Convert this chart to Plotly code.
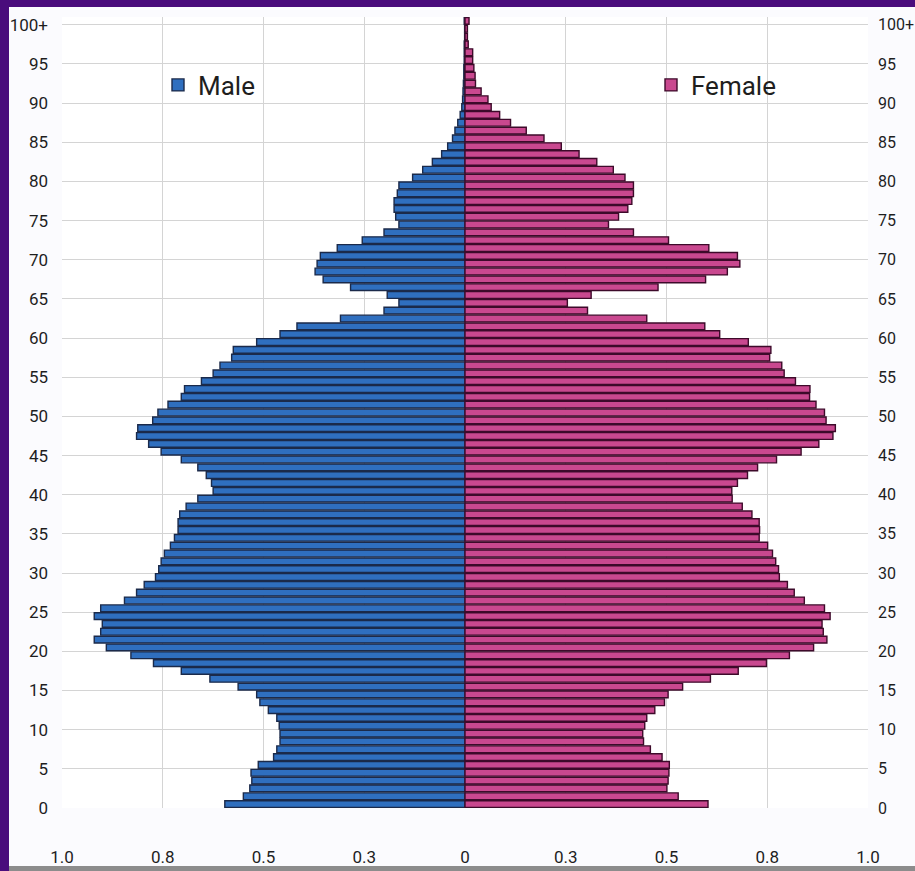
import plotly.graph_objects as go

ages = list(range(0, 101))

male = [0.596, 0.550, 0.534, 0.529, 0.531, 0.513, 0.475, 0.467, 0.459, 0.459,
        0.461, 0.467, 0.488, 0.509, 0.517, 0.563, 0.633, 0.704, 0.773, 0.829,
        0.890, 0.920, 0.904, 0.900, 0.920, 0.904, 0.845, 0.815, 0.796, 0.768,
        0.760, 0.754, 0.746, 0.731, 0.721, 0.712, 0.712, 0.708, 0.692, 0.663,
        0.625, 0.629, 0.642, 0.663, 0.704, 0.754, 0.785, 0.815, 0.812, 0.775,
        0.762, 0.737, 0.704, 0.696, 0.654, 0.625, 0.608, 0.579, 0.575, 0.517,
        0.459, 0.417, 0.309, 0.201, 0.164, 0.193, 0.284, 0.352, 0.372, 0.367,
        0.359, 0.317, 0.255, 0.201, 0.164, 0.172, 0.176, 0.176, 0.168, 0.164,
        0.130, 0.105, 0.081, 0.058, 0.043, 0.031, 0.025, 0.018, 0.012, 0.008,
        0.006, 0.005, 0.004, 0.003, 0.003, 0.002, 0.002, 0.002, 0.001, 0.001,
        0.002]

female = [0.603, 0.529, 0.501, 0.504, 0.506, 0.507, 0.489, 0.460, 0.443, 0.441,
          0.446, 0.451, 0.471, 0.495, 0.504, 0.540, 0.609, 0.678, 0.748, 0.805,
          0.865, 0.898, 0.889, 0.886, 0.906, 0.892, 0.842, 0.817, 0.800, 0.780,
          0.778, 0.771, 0.763, 0.751, 0.730, 0.731, 0.730, 0.712, 0.688, 0.663,
          0.662, 0.676, 0.701, 0.726, 0.773, 0.834, 0.878, 0.913, 0.919, 0.896,
          0.892, 0.871, 0.855, 0.856, 0.820, 0.792, 0.786, 0.756, 0.759, 0.703,
          0.632, 0.595, 0.451, 0.304, 0.254, 0.313, 0.479, 0.597, 0.651, 0.682,
          0.676, 0.605, 0.505, 0.418, 0.356, 0.381, 0.404, 0.414, 0.418, 0.418,
          0.397, 0.368, 0.327, 0.283, 0.239, 0.196, 0.152, 0.113, 0.086, 0.065,
          0.057, 0.040, 0.026, 0.025, 0.022, 0.019, 0.019, 0.008, 0.006, 0.006,
          0.010]

x_tickvals = [-1.0, -0.75, -0.5, -0.25, 0, 0.25, 0.5, 0.75, 1.0]
x_ticktext = ["1.0", "0.8", "0.5", "0.3", "0", "0.3", "0.5", "0.8", "1.0"]
age_tick_positions = [a - 0.5 for a in range(0, 101, 5)]
age_tick_labels = [str(a) for a in range(0, 100, 5)] + ["100+"]

W, H = 915, 871
ML, MR, MT, MB = 62, 47, 17, 63
PW, PH = W - ML - MR, H - MT - MB

def px_x(px):
    return (px - ML) / PW

def px_y(py):
    return (H - MB - py) / PH

FONT = "Roboto, Liberation Sans, sans-serif"
PURPLE = "#4A0C7C"

fig = go.Figure()
fig.add_trace(go.Bar(
    y=ages, x=[-v for v in male], orientation="h", name="Male",
    marker=dict(color="#2F6FBF", line=dict(color="#1B2A4A", width=1.4)),
    legend="legend", hoverinfo="skip"))
fig.add_trace(go.Bar(
    y=ages, x=female, orientation="h", name="Female",
    marker=dict(color="#C9488F", line=dict(color="#3D0A2A", width=1.4)),
    legend="legend2", hoverinfo="skip"))
# invisible helper trace so the right-hand age axis is drawn
fig.add_trace(go.Scatter(
    y=ages, x=[0] * len(ages), yaxis="y2", mode="markers",
    marker=dict(opacity=0), showlegend=False, hoverinfo="skip"))

axis_font = dict(family=FONT, size=17, color="#1E1E1E")
axis_font_r = dict(family=FONT, size=16, color="#1E1E1E")

fig.update_layout(
    width=W, height=H,
    margin=dict(l=ML, r=MR, t=MT, b=MB, autoexpand=False),
    paper_bgcolor="#FBFBFE",
    plot_bgcolor="#FFFFFF",
    barmode="overlay",
    bargap=0.14,
    xaxis=dict(range=[-1.0, 1.0], tickvals=x_tickvals, ticktext=x_ticktext,
               showgrid=True, gridcolor="#D4D4D4", gridwidth=1, zeroline=False,
               showline=False, ticks="", tickfont=axis_font, automargin=False,
               ticklabelstandoff=37, fixedrange=True),
    yaxis=dict(range=[-0.5, 100.5], tickvals=age_tick_positions,
               ticktext=age_tick_labels, showgrid=True, gridcolor="#D4D4D4",
               gridwidth=1, zeroline=False, showline=False, ticks="",
               tickfont=axis_font, ticklabelstandoff=13, automargin=False,
               fixedrange=True),
    yaxis2=dict(range=[-0.5, 100.5], tickvals=age_tick_positions,
                ticktext=age_tick_labels, overlaying="y", side="right",
                showgrid=False, zeroline=False, showline=False, ticks="",
                tickfont=axis_font_r, ticklabelstandoff=9, automargin=False,
                fixedrange=True),
    legend=dict(x=px_x(158), y=px_y(85), xanchor="left", yanchor="middle",
                bgcolor="rgba(0,0,0,0)", font=dict(family=FONT, size=26, color="#1E1E1E"),
                itemwidth=30),
    legend2=dict(x=px_x(651), y=px_y(85), xanchor="left", yanchor="middle",
                 bgcolor="rgba(0,0,0,0)", font=dict(family=FONT, size=26, color="#1E1E1E"),
                 itemwidth=30),
    shapes=[
        dict(type="rect", xref="paper", yref="paper", layer="above",
             x0=px_x(0), x1=px_x(W), y0=px_y(7), y1=px_y(0),
             fillcolor=PURPLE, line=dict(width=0)),
        dict(type="rect", xref="paper", yref="paper", layer="above",
             x0=px_x(0), x1=px_x(9), y0=px_y(H), y1=px_y(0),
             fillcolor=PURPLE, line=dict(width=0)),
        dict(type="rect", xref="paper", yref="paper", layer="above",
             x0=px_x(9), x1=px_x(W), y0=px_y(H), y1=px_y(866),
             fillcolor="#8C8C8C", line=dict(width=0)),
    ],
)

fig.write_html("out.html", config={"displayModeBar": False},
               post_script="document.body.style.margin='0';document.body.style.padding='0';")
